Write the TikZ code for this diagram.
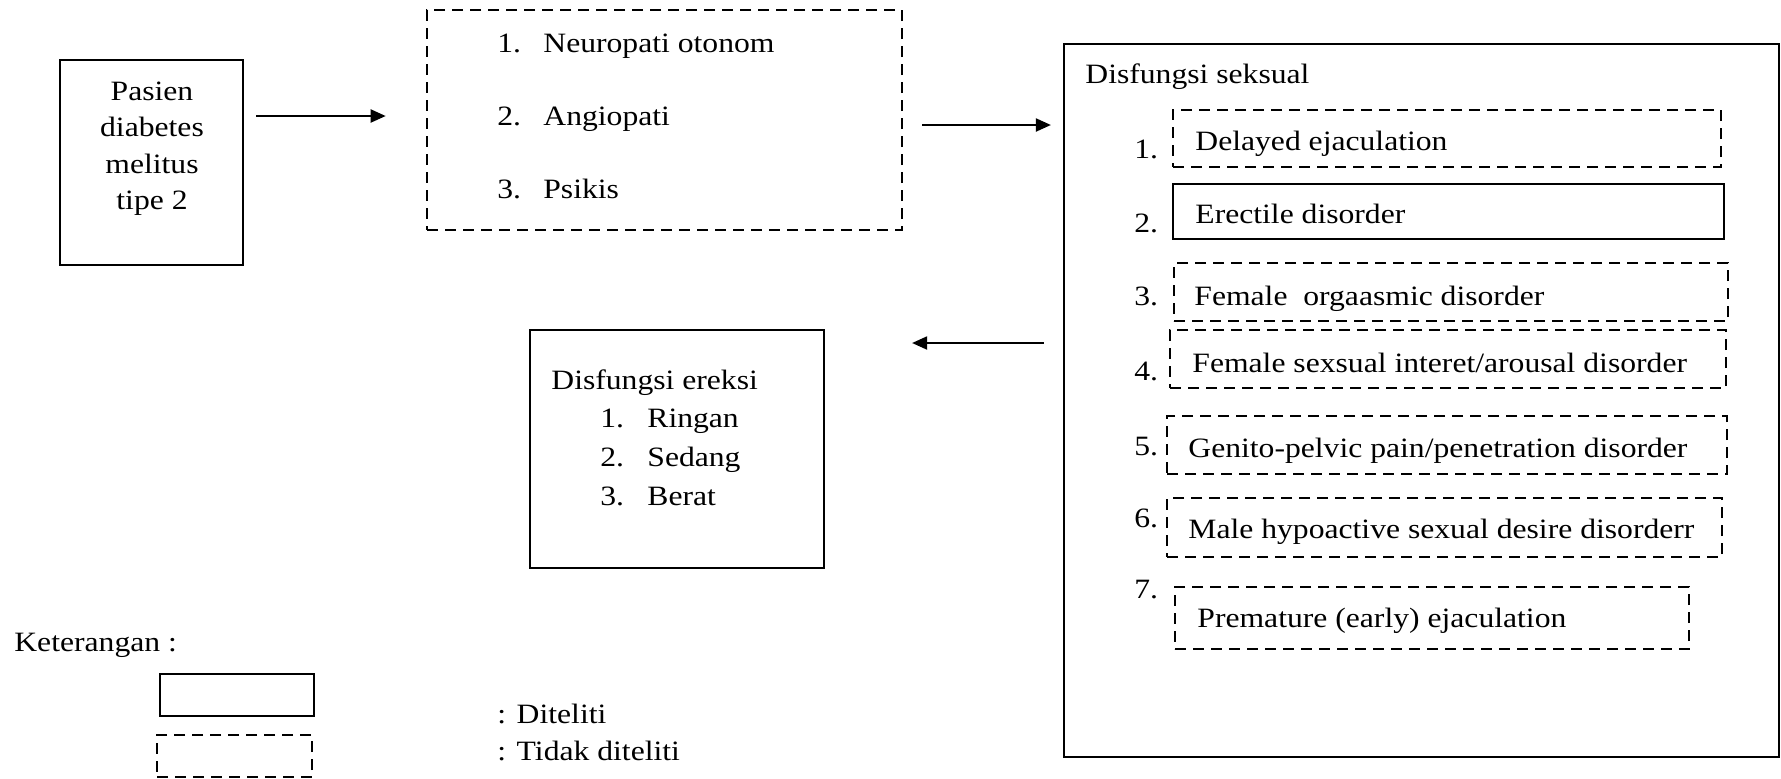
\documentclass[tikz,border=0pt]{standalone}
\usepackage{fontspec}
\setmainfont{Liberation Serif}[FakeStretch=1.13]
\usetikzlibrary{fit,arrows.meta}
\begin{document}
\begin{tikzpicture}[x=0.5pt,y=-0.5pt,
  solidbox/.style={draw, line width=1.1pt, inner sep=0pt},
  dashbox/.style={draw, line width=1.3pt, inner sep=0pt, dash pattern=on 5.5pt off 3.5pt},
  txt/.style={anchor=base west, inner sep=0pt, font=\fontsize{14}{18}\selectfont},
  ctxt/.style={anchor=base, inner sep=0pt, font=\fontsize{14}{18}\selectfont},
  arr/.style={line width=1pt, -{Triangle[length=7.5pt,width=6.5pt]}}]
\useasboundingbox (0,0) rectangle (1781,778);

% Pasien box
\node[solidbox, fit={(60,60)(243,265)}] (pasien) {};
\node[ctxt] (p1) at (152,100) {Pasien};
\node[ctxt] (p2) at (152,136) {diabetes};
\node[ctxt] (p3) at (152,173) {melitus};
\node[ctxt] (p4) at (152,209) {tipe 2};

% Faktor box
\node[dashbox, fit={(427,10)(902,230)}] (faktor) {};
\node[txt] (f1n) at (497,52) {1.};
\node[txt] (f1) at (543,52) {Neuropati otonom};
\node[txt] (f2n) at (497,125) {2.};
\node[txt] (f2) at (543,125) {Angiopati};
\node[txt] (f3n) at (497,198) {3.};
\node[txt] (f3) at (543,198) {Psikis};

% Seksual box
\node[solidbox, fit={(1064,44)(1779,757)}] (seksual) {};
\node[txt] (st) at (1085,83) {Disfungsi seksual};

\node[dashbox, fit={(1173,110)(1721,167)}] (b1) {};
\node[txt] (n1) at (1134,158) {1.};
\node[txt] (t1) at (1195,150) {Delayed ejaculation};

\node[solidbox, fit={(1173,184)(1724,239)}] (b2) {};
\node[txt] (n2) at (1134,232) {2.};
\node[txt] (t2) at (1195,223) {Erectile disorder};

\node[dashbox, fit={(1174,263)(1728,321)}] (b3) {};
\node[txt] (n3) at (1134,305) {3.};
\node[txt] (t3) at (1194,305) {Female\ \ orgaasmic disorder};

\node[dashbox, fit={(1170,330)(1726,388)}] (b4) {};
\node[txt] (n4) at (1134,380) {4.};
\node[txt] (t4) at (1192,372) {Female sexsual interet/arousal disorder};

\node[dashbox, fit={(1167,416)(1727,474)}] (b5) {};
\node[txt] (n5) at (1134,455) {5.};
\node[txt] (t5) at (1188,457) {Genito-pelvic pain/penetration disorder};

\node[dashbox, fit={(1167,498)(1722,557)}] (b6) {};
\node[txt] (n6) at (1134,527) {6.};
\node[txt] (t6) at (1188,538) {Male hypoactive sexual desire disorderr};

\node[dashbox, fit={(1175,587)(1689,649)}] (b7) {};
\node[txt] (n7) at (1134,598) {7.};
\node[txt] (t7) at (1197,627) {Premature (early) ejaculation};

% Ereksi box
\node[solidbox, fit={(530,330)(824,568)}] (ereksi) {};
\node[txt] (et) at (551,389) {Disfungsi ereksi};
\node[txt] (e1n) at (600,427) {1.};
\node[txt] (e1) at (647,427) {Ringan};
\node[txt] (e2n) at (600,466) {2.};
\node[txt] (e2) at (647,466) {Sedang};
\node[txt] (e3n) at (600,505) {3.};
\node[txt] (e3) at (647,505) {Berat};

% Arrows
\draw[arr] ([xshift=6pt,yshift=2pt]pasien.east |- faktor.west) -- ([xshift=-20pt,yshift=2pt]faktor.west);
\draw[arr] ([xshift=9.5pt,yshift=-2.5pt]faktor.east) -- ([xshift=-6pt,yshift=-2.5pt]faktor.east -| seksual.west);
\draw[arr] ([xshift=-9.5pt]seksual.west |- 0,343) -- ([xshift=43.5pt]ereksi.east |- 0,343);

% Legend
\node[txt] (ket) at (14,651) {Keterangan :};
\node[solidbox, fit={(160,674)(314,716)}] (lg1) {};
\node[dashbox, fit={(157,735)(312,777)}] (lg2) {};
\node[txt] (lt1) at (497,723) {: Diteliti};
\node[txt] (lt2) at (497,760) {: Tidak diteliti};
\end{tikzpicture}
\end{document}
